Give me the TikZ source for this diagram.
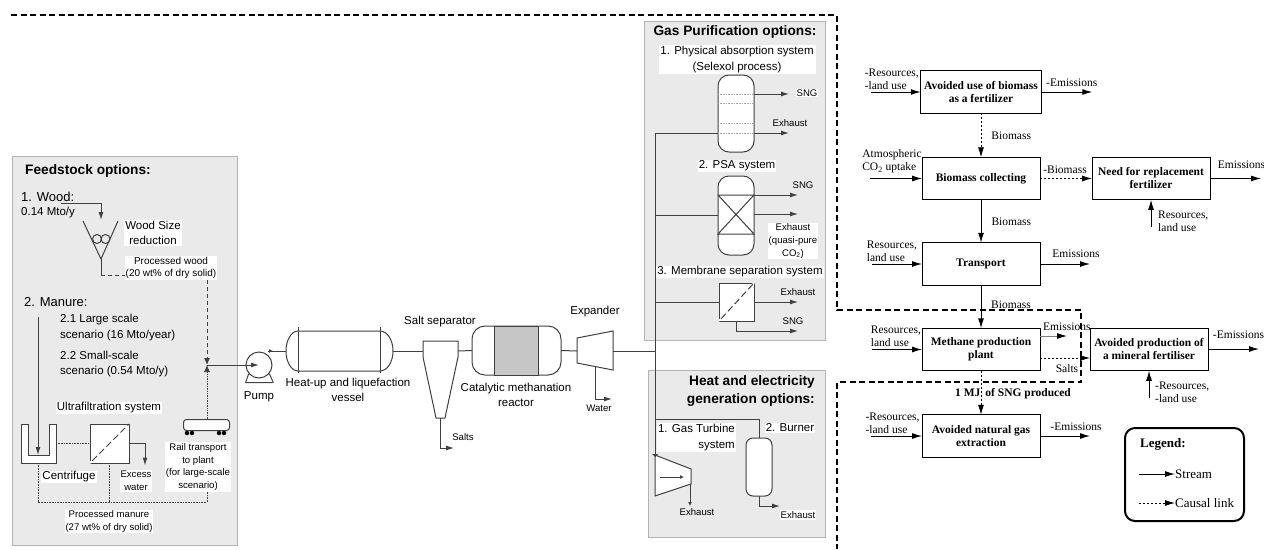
\documentclass[tikz,border=0pt]{standalone}
\usepackage{fontspec}
\setmainfont{Liberation Sans}
\newfontfamily\lcafont{Liberation Serif}
\usetikzlibrary{positioning,arrows.meta,calc}
\definecolor{panelgray}{HTML}{EAEAEA}
\definecolor{panelline}{HTML}{B4B4B4}
\definecolor{linegray}{HTML}{404040}

\begin{document}
\begin{tikzpicture}[
    x=1pt, y=-1pt,
    panel/.style={draw=panelline, fill=panelgray, line width=0.9pt},
    unit/.style={draw=linegray, line width=1pt, fill=white},
    process/.style={rectangle, draw, line width=1pt, outer sep=0pt, minimum width=118pt, minimum height=42.5pt, align=center, font=\lcafont\fontsize{11.5}{13}\selectfont\bfseries},
    lcatxt/.style={font=\lcafont\fontsize{11.5}{13}\selectfont, align=left, inner sep=0pt},
    bigtxt/.style={font=\fontsize{13}{15.5}\selectfont, align=left, inner sep=1pt},
    medtxt/.style={font=\fontsize{11.5}{15.5}\selectfont, align=center, inner sep=1pt},
    smalltxt/.style={font=\fontsize{9.6}{12.7}\selectfont, align=center, inner sep=1pt},
    headtxt/.style={font=\fontsize{13.7}{18}\selectfont\bfseries, align=right, inner sep=0pt},
    white/.style={fill=white},
    pipe/.style={draw=linegray, line width=1pt},
    pipetip/.style={pipe, -{Latex[length=8pt,width=5pt]}},
    dashpipe/.style={pipe, -{Latex[length=7pt,width=6pt]}, dash pattern=on 4pt off 3pt},
    dotpipe/.style={draw=linegray, line width=0.6pt, densely dotted},
    stream/.style={draw, line width=1pt, -{Latex[length=10pt,width=6pt]}},
    causal/.style={stream, line width=0.8pt, dash pattern=on 2pt off 2pt}
]
\useasboundingbox (0,0) rectangle (1264,549);

% --- Panels ---
\draw[panel] (12,156) rectangle (237,545);
\draw[panel] (644,21) rectangle (825,340);
\draw[panel] (648,370) rectangle (825,537);

% --- System boundary ---
\coordinate (bndStart) at (11,15);
\coordinate (bndTop) at (837,15);
\coordinate (bndIn) at (837,310);
\coordinate (bndOutA) at (1081,310);
\coordinate (bndOutB) at (1081,382);
\coordinate (bndBack) at (837,382);
\coordinate (bndEnd) at (837,549);
\draw[line width=1.2pt, dash pattern=on 6pt off 3.5pt] (bndStart) -- (bndTop) -- (bndIn) -- (bndOutA) -- (bndOutB) -- (bndBack) -- (bndEnd);

% --- Feedstock: wood ---
\node[headtxt, anchor=west] (feedtitle) at (25,171) {Feedstock options:};
\node[bigtxt, anchor=west] (wood) at (20,197) {1. Wood:};
\node[medtxt, anchor=west] (woodrate) at (20,213) {0.14 Mto/y};
\coordinate (woodin) at (61,203);
\coordinate (hopA) at (83,221);
\coordinate (hopB) at (118,221);
\coordinate (hopC) at (101,259);
\draw[pipetip] (woodin) -- (woodin -| hopC) -- ($(woodin -| hopC)+(0,17)$);
\draw[pipe] (hopA) -- (hopC) -- (hopB);
\node[circle, pipe, minimum size=9pt, inner sep=0pt] (rollA) at (97,239) {};
\node[circle, pipe, minimum size=9pt, inner sep=0pt] (rollB) at (105.5,239) {};
\node[medtxt, white] (woodsize) at (153,233) {Wood Size\\reduction};
\node[smalltxt, white, font=\fontsize{10}{12.7}\selectfont] (procwood) at (171,268) {Processed wood\\(20 wt\% of dry solid)};
\coordinate (hopOut) at (101,275);
\draw[pipe] (hopC) -- (hopOut);
\draw[pipe, dash pattern=on 4pt off 3pt] (hopOut) -- (hopOut -| procwood.west);

% --- Feedstock: manure ---
\node[bigtxt, anchor=west] (manure) at (23,302) {2. Manure:};
\node[medtxt, anchor=west, align=left] (large) at (59,327.5) {2.1 Large scale\\scenario (16 Mto/year)};
\node[medtxt, anchor=west, align=left] (small) at (59,364) {2.2 Small-scale\\scenario (0.54 Mto/y)};
\node[medtxt, white] (ultra) at (109,408) {Ultrafiltration system};
\node[rectangle, pipe, fill=white, minimum size=39pt, inner sep=0pt, outer sep=0pt] (filter) at (109.5,443.5) {};
\draw[pipe] (filter.south west) -- (filter.north east);
\draw[fill=none, draw=white, line width=1.8pt, dash pattern=on 3pt off 7pt] (filter.south west) -- (filter.north east);
\coordinate (cenA) at (21,424);
\coordinate (cenB) at (21,463);
\coordinate (cenC) at (56,463);
\coordinate (cenD) at (56,424);
\draw[pipe, fill=white] (cenA) -- (cenB) -- (cenC) -- (cenD) -- (49,424) -- (49,455) -- (28,455) -- (28,424) -- cycle;
\coordinate (manurein) at (38,317);
\draw[pipetip] (manurein) -- (38,455);
\node[medtxt, white] (centri) at (69,477) {Centrifuge};
\draw[dotpipe] (cenC |- filter) -- (filter.west);
\coordinate (excess) at (145,443.5);
\draw[pipetip] (filter.east) -- (excess) -- ($(excess)+(0,22)$);
\node[smalltxt, white] (excesstxt) at (136,481) {Excess\\water};

% --- Rail transport ---
\node[rectangle, pipe, fill=white, rounded corners=3pt, minimum width=46pt, minimum height=11pt, inner sep=0pt] (rail) at (206.5,425) {};
\fill[linegray] (200,418.5) rectangle (213,420);
\foreach \xx in {187,192,219,224} \node[circle, fill=black, inner sep=0pt, minimum size=4.5pt] (wheel\xx) at (\xx,433) {};
\node[smalltxt, white] (railtxt) at (198,467) {Rail transport\\to plant\\(for large-scale\\scenario)};
\node[smalltxt, white] (procman) at (109,521.5) {Processed manure\\(27 wt\% of dry solid)};

% --- Merge point ---
\coordinate (valve) at (207,365);
\coordinate (manA) at (38,502);
\coordinate (manB) at (207,502);
\coordinate (manC) at (109.5,502);
\draw[dashpipe] (valve |- procwood.south) -- (valve);
\draw[pipe, line width=0.7pt, -{Latex[length=7pt,width=6pt]}, densely dotted] (rail.north -| valve) -- (valve);
\draw[dotpipe] (railtxt.south -| valve) -- (manB) -- (manA) -- (cenB -| manA);
\draw[dotpipe] (manC) -- (filter.south);

% --- Main line ---
\node[circle, unit, minimum size=26pt, inner sep=0pt] (pump) at (259,365) {};
\draw[pipetip] (valve) -- (pump.center);
\draw[pipe] (pump.-140) -- ++(-3,9) coordinate (pumpL) -- ++(27,0);
\draw[pipe] (pump.-40) -- ++(4,9) coordinate (pumpR);
\node[medtxt, below=12pt of pump] (pumptxt) {Pump};

\coordinate (vesA) at (298,331);
\coordinate (vesB) at (380,331);
\draw[unit] (vesA) -- (vesB) arc[start angle=90, end angle=-90, x radius=13pt, y radius=20pt] -- (298,371) arc[start angle=270, end angle=90, x radius=12pt, y radius=20pt] -- cycle;
\draw[pipe] (298,327) -- (298,373);
\draw[pipe] (380,327) -- (380,373);
\coordinate (vesIn) at (286,351);
\coordinate (vesOut) at (393,351);
\coordinate (pumpOut) at (268,351);
\draw[pipe] (pumpOut) -- (vesIn);
\draw[pipe, -{Latex[length=4pt,width=4pt]}] (pumpOut) -- ++(5,0);
\node[medtxt] (vestxt) at (348,390) {Heat-up and liquefaction\\vessel};

\coordinate (sepA) at (423,341);
\coordinate (sepB) at (458,341);
\draw[unit] (sepA) -- (sepB) -- (458,357) -- (445,418) -- (436,418) -- (423,357) -- cycle;
\coordinate (sepOut) at (440,418);
\coordinate (sepIn) at (423,351);
\draw[pipe] (vesOut) -- (sepIn);
\draw[pipetip] (sepOut) -- ++(0,30) -- ++(14,0);
\node[smalltxt] (saltstxt) at (463,437) {Salts};
\node[medtxt] (septxt) at (440,322) {Salt separator};

\node[rectangle, unit, rounded corners=13pt, minimum width=89pt, minimum height=49pt, inner sep=0pt, outer sep=0pt] (reactor) at (516.5,350.5) {};
\node[rectangle, draw=linegray, line width=1pt, fill=gray!45, minimum width=44pt, minimum height=49pt, inner sep=0pt, outer sep=0pt] (catalyst) at (516,350.5) {};
\draw[pipe] (458,351) -- (reactor.west);
\node[medtxt] (reacttxt) at (516,395) {Catalytic methanation\\reactor};

\coordinate (expA) at (577,338);
\coordinate (expB) at (613,331);
\coordinate (expC) at (613,370);
\coordinate (expD) at (577,363);
\draw[unit] (expA) -- (expB) -- (expC) -- (expD) -- cycle;
\draw[pipe] (reactor.east) -- (577,351);
\node[medtxt] (exptxt) at (595,312) {Expander};
\draw[pipetip] (595,367) -- (595,399) -- (612,399);
\node[smalltxt] (watertxt) at (599,408) {Water};

% --- Gas Purification options ---
\coordinate (mainTop) at (655,133);
\coordinate (mainBot) at (655,455);
\coordinate (mainExp) at (655,351);
\draw[pipe] (613,351) -- (mainExp);
\draw[pipe] (mainTop) -- (mainBot);
\node[headtxt] (gastitle) at (735,32) {Gas Purification options:};
\node[medtxt, white, minimum width=157pt] (physical) at (737,59.5) {1. Physical absorption system\\(Selexol process)};

\node[rectangle, unit, rounded corners=11pt, minimum width=36pt, minimum height=77pt, inner sep=0pt, outer sep=0pt] (column) at (736,113.5) {};
\foreach \yy in {94,103,123,133} \draw[dotpipe, gray!70] (column.west |- 0,\yy) -- (column.east |- 0,\yy);
\coordinate (colSng) at (789,94);
\coordinate (colExh) at (789,133);
\draw[pipetip] (column.east |- colSng) -- (colSng);
\draw[pipe] (mainTop) -- (column.west |- mainTop);
\draw[pipetip] (column.east |- colExh) -- (colExh);
\node[smalltxt, white] (colSngtxt) at (807,93) {SNG};
\node[smalltxt] (colExhtxt) at (790,123) {Exhaust};

\node[medtxt, white] (psatxt) at (737,166) {2. PSA system};
\node[rectangle, unit, rounded corners=11pt, minimum width=36pt, minimum height=79pt, inner sep=0pt, outer sep=0pt] (psa) at (736,215.5) {};
\coordinate (psaA) at (718,195);
\coordinate (psaB) at (754,195);
\coordinate (psaC) at (718,234);
\coordinate (psaD) at (754,234);
\draw[pipe] (psaA) -- (psaB) -- (psaC) -- (psaD) -- (psaA);
\draw[pipe] (mainTop |- psa) -- (psa.west);
\draw[pipetip] (psaB) -- (798,195);
\draw[pipetip] (754,214) -- (798,214);
\node[smalltxt] (psaSngtxt) at (803,185) {SNG};
\node[smalltxt, white] (psaExhtxt) at (793,241) {Exhaust\\(quasi-pure\\CO\textsubscript{2})};

\node[medtxt, white] (membtxt) at (740,272) {3. Membrane separation system};
\node[rectangle, unit, minimum width=35pt, minimum height=38pt, inner sep=0pt, outer sep=0pt] (memb) at (736.5,302) {};
\draw[pipe] (memb.south west) -- (memb.north east);
\draw[draw=white, line width=1.8pt, dash pattern=on 3pt off 7pt] (memb.south west) -- (memb.north east);
\draw[pipe] (mainTop |- memb) -- (memb.west);
\draw[pipetip] (memb.east) -- (798,302);
\draw[pipetip] (memb.south) -- (736.5,331) -- (798,331);
\node[smalltxt] (membExhtxt) at (798,292) {Exhaust};
\node[smalltxt] (membSngtxt) at (793,321) {SNG};

% --- Heat and electricity generation options ---
\node[headtxt, anchor=north east] (heattitle) at (815,375) {Heat and electricity\\generation options:};
\node[rectangle, unit, rounded corners=7pt, minimum width=26pt, minimum height=58pt, inner sep=0pt, outer sep=0pt] (burner) at (759,467) {};
\coordinate (burnIn) at (655,419);
\draw[pipe] (burnIn) -- (burnIn -| burner) -- (burner.north);
\draw[pipetip] (burner.south) -- (759,506) -- (780,506);
\node[medtxt, white, align=right, anchor=east] (turbtxt) at (736,437.5) {1. Gas Turbine\\system};
\node[medtxt, white] (burntxt) at (790,428) {2. Burner};

\coordinate (turbA) at (655,455);
\coordinate (turbB) at (691,469);
\coordinate (turbC) at (691,484);
\coordinate (turbD) at (655,496);
\draw[unit] (turbA) -- (turbB) -- (turbC) -- (turbD) -- cycle;
\fill[linegray] (652,454) -- (658,454) -- (655,457) -- cycle;
\draw[pipe, -{Latex[length=4pt,width=4pt]}] (660,477) -- (684,477);
\draw[pipe, -{Latex[length=4pt,width=4pt]}] (690,484) -- (690,506);
\node[smalltxt] (turbExhtxt) at (697,512) {Exhaust};
\node[smalltxt, white] (burnExhtxt) at (798,515) {Exhaust};

% --- Life cycle boxes ---
\node[process] (fert) at (981,92) {Avoided use of biomass\\as a fertilizer};
\node[process, below=44pt of fert] (collect) {Biomass collecting};
\node[process, right=52pt of collect] (replace) {Need for replacement\\fertilizer};
\node[process, below=43pt of collect] (transport) {Transport};
\node[process, below=43pt of transport] (methane) {Methane production\\plant};
\node[process, right=50pt of methane] (mineral) {Avoided production of\\a mineral fertiliser};
\node[process, below=44pt of methane] (natgas) {Avoided natural gas\\extraction};

% free ends of the stream arrows
\coordinate[left=50pt of fert] (fertin);
\coordinate[right=51pt of fert] (fertout);
\coordinate[left=52pt of collect] (collectin);
\coordinate[right=51pt of replace] (replaceout);
\coordinate[below=27pt of replace] (replacein);
\coordinate[left=50pt of transport] (transin);
\coordinate[right=50pt of transport] (transout);
\coordinate[left=50pt of methane] (methin);
\coordinate[right=51pt of mineral] (mineralout);
\coordinate[below=27pt of mineral] (mineralin);
\coordinate[left=51pt of natgas] (natin);
\coordinate[right=50pt of natgas] (natout);
\coordinate (methemis) at (1067,336);

\draw[stream] (fertin) -- (fert) node[midway, above=2pt, xshift=-4pt, lcatxt] (fertres) {-Resources,\\-land use};
\draw[stream] (fert) -- (fertout) node[midway, above=5pt, xshift=5pt, lcatxt] (fertemis) {-Emissions};
\draw[causal] (fert) -- (collect) node[midway, right=10pt, lcatxt] (bio1) {Biomass};
\draw[stream, line width=0.8pt] (collectin) -- (collect) node[midway, above=5pt, xshift=-4pt, lcatxt] (atm) {Atmospheric\\CO\textsubscript{2} uptake};
\draw[causal] (collect) -- (replace) node[midway, above=4pt, xshift=-1pt, lcatxt] (minusbio) {-Biomass};
\draw[stream] (replace) -- (replaceout) node[midway, above=9pt, xshift=6pt, lcatxt] (replemis) {Emissions};
\draw[stream] (replacein) -- (replace);
\node[lcatxt, right=7pt of replacein, yshift=5pt] (replres) {Resources,\\land use};
\draw[stream] (collect) -- (transport) node[midway, right=10pt, lcatxt] (bio2) {Biomass};
\draw[stream] (transin) -- (transport) node[midway, above=2pt, xshift=-5pt, lcatxt] (transres) {Resources,\\land use};
\draw[stream] (transport) -- (transout) node[midway, above=6pt, xshift=11pt, lcatxt] (transemis) {Emissions};
\draw[stream] (transport) -- (methane);
\node[lcatxt, right=10pt of transport.south, yshift=-19pt] (bio3) {Biomass};
\draw[stream] (methin) -- (methane) node[midway, above=2pt, xshift=-1pt, lcatxt] (methres) {Resources,\\land use};
\draw[draw=gray, line width=1pt, -{Latex[length=10pt,width=6pt,color=black]}] (methane.east |- methemis) -- (methemis);
\node[lcatxt, anchor=west] (methemistxt) at (1043,327) {Emissions};
\draw[causal] (methane.east |- 0,358) -- (mineral.west |- 0,358);
\node[lcatxt] (saltslca) at (1067,369) {Salts};
\draw[stream] (mineral.east |- 0,349) -- (mineralout |- 0,349) node[midway, above=10pt, xshift=5pt, lcatxt] (minemis) {-Emissions};
\draw[stream] (mineralin) -- (mineral);
\node[lcatxt, right=6pt of mineralin, yshift=5pt] (minres) {-Resources,\\-land use};
\draw[causal] (methane) -- (natgas);
\node[lcatxt, font=\lcafont\fontsize{11.5}{13}\selectfont\bfseries] (mjtxt) at (1013,394) {1 MJ\hspace{5pt}of SNG produced};
\draw[stream] (natin) -- (natgas) node[midway, above=2pt, xshift=-4pt, lcatxt] (natres) {-Resources,\\-land use};
\draw[stream] (natgas) -- (natout) node[midway, above=5pt, xshift=11pt, lcatxt] (natemis) {-Emissions};

% --- Legend ---
\node[rectangle, draw, line width=2pt, rounded corners=10pt, minimum width=119pt, minimum height=93pt] (legend) at (1184.5,474.5) {};
\node[lcatxt, anchor=west, font=\lcafont\fontsize{13}{15}\selectfont\bfseries] (legtitle) at (1140,444) {Legend:};
\coordinate (legA) at (1139,474);
\coordinate (legB) at (1139,503);
\node[lcatxt, anchor=west, font=\lcafont\fontsize{13}{15}\selectfont] (legstream) at (1175,474) {Stream};
\node[lcatxt, anchor=west, font=\lcafont\fontsize{13}{15}\selectfont] (legcausal) at (1175,503) {Causal link};
\draw[stream] (legA) -- (legstream);
\draw[causal] (legB) -- (legcausal);

\end{tikzpicture}
\end{document}
